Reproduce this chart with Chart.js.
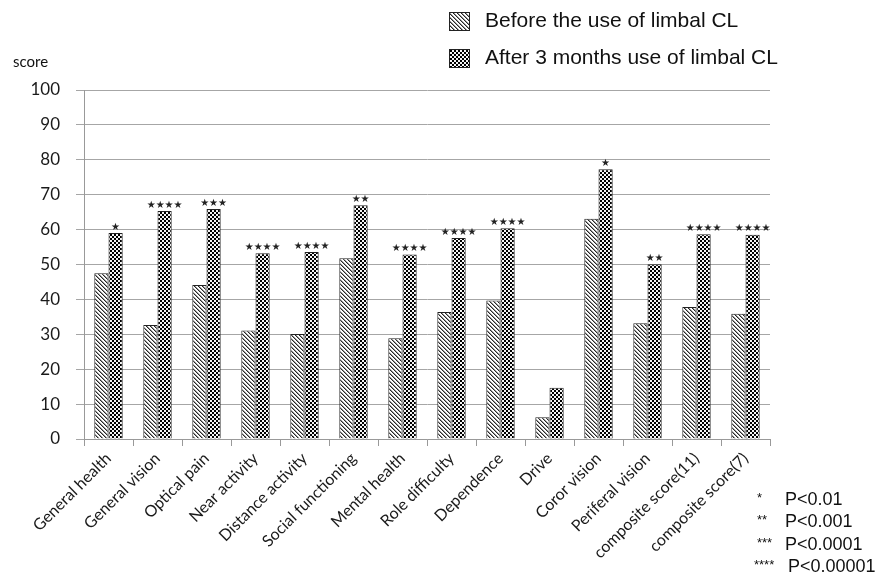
<!DOCTYPE html>
<html>
<head>
<meta charset="utf-8">
<style>
  html, body { margin: 0; padding: 0; background: #fff; }
  #wrap { width: 879px; height: 574px; position: relative; }
</style>
<script src="https://cdn.jsdelivr.net/npm/chart.js@4/dist/chart.umd.min.js"></script>
</head>
<body>
<div id="wrap"><canvas id="c" width="879" height="574"></canvas></div>
<script>
// Quality-of-life scores per domain, before and after 3 months of limbal CL wear
const categories = [
  'General health', 'General vision', 'Optical pain', 'Near activity',
  'Distance activity', 'Social functioning', 'Mental health', 'Role difficulty',
  'Dependence', 'Drive', 'Coror vision', 'Periferal vision',
  'composite score(11)', 'composite score(7)'
];
const beforeScores = [47.5, 32.7, 44.1, 31.1, 30.1, 51.8, 28.9, 36.4, 39.7, 6.2, 63.1, 33.2, 37.8, 35.9];
const afterScores  = [59.0, 65.3, 65.9, 53.2, 53.6, 67.0, 52.9, 57.6, 60.4, 14.7, 77.3, 50.1, 58.7, 58.5];
const significance = ['*', '****', '***', '****', '****', '**', '****', '****', '****', '', '*', '**', '****', '****'];
const seriesNames = ['Before the use of limbal CL', 'After 3 months use of limbal CL'];
const pValueKeys = ['*', '**', '***', '****'];
const pValueTexts = ['P<0.01', 'P<0.001', 'P<0.0001', 'P<0.00001'];

// Fill patterns: fine diagonal hatch and a small checkerboard
function makePattern(kind) {
  const s = 8;
  const pc = document.createElement('canvas');
  pc.width = s; pc.height = s;
  const g = pc.getContext('2d');
  const img = g.createImageData(s, s);
  for (let y = 0; y < s; y++) {
    for (let x = 0; x < s; x++) {
      let v;
      if (kind === 'hatch') {
        const d = ((x - y) % 4 + 4) % 4;
        v = d === 0 ? 40 : (d === 1 ? 150 : 255);
      } else {
        v = (Math.floor(x / 2) + Math.floor(y / 2)) % 2 === 0 ? 0 : 245;
      }
      const i = (y * s + x) * 4;
      img.data[i] = v; img.data[i + 1] = v; img.data[i + 2] = v; img.data[i + 3] = 255;
    }
  }
  g.putImageData(img, 0, 0);
  return g.createPattern(pc, 'repeat');
}
const ctx0 = document.getElementById('c').getContext('2d');
const hatch = makePattern('hatch');
const checker = makePattern('checker');

// Star markers above the "after" bars and the custom legends
const annotations = {
  id: 'annotations',
  afterDatasetsDraw(chart) {
    const ctx = chart.ctx;
    const meta = chart.getDatasetMeta(1);
    ctx.save();
    ctx.fillStyle = '#222';
    ctx.font = '10px "DejaVu Sans"';
    ctx.textAlign = 'center';
    ctx.textBaseline = 'bottom';
    meta.data.forEach((bar, i) => {
      const mark = significance[i];
      if (!mark) return;
      ctx.fillText('\u2605'.repeat(mark.length), bar.x, bar.y - 1);
    });
    ctx.restore();
  },
  afterDraw(chart) {
    const ctx = chart.ctx;
    ctx.save();
    // series legend, top right
    const fills = [hatch, checker];
    const rows = [21, 58];
    ctx.font = '21px "Liberation Sans"';
    ctx.textBaseline = 'middle';
    ctx.textAlign = 'left';
    rows.forEach((cy, i) => {
      ctx.fillStyle = fills[i];
      ctx.fillRect(449, cy - 9, 21, 19);
      ctx.strokeStyle = '#222';
      ctx.lineWidth = 1;
      ctx.strokeRect(449.5, cy - 8.5, 20, 18);
      ctx.fillStyle = '#111';
      ctx.fillText(seriesNames[i], 485, cy);
    });
    // significance key, bottom right
    const keyRows = [500, 522, 545, 567];
    keyRows.forEach((cy, i) => {
      ctx.font = '13px "Liberation Sans"';
      ctx.fillStyle = '#111';
      ctx.textAlign = 'left';
      ctx.fillText(pValueKeys[i], i === 3 ? 754 : 757, cy - 2);
      ctx.font = '18px "Liberation Sans"';
      ctx.fillText(pValueTexts[i], i === 3 ? 788 : 785, cy);
    });
    // y axis title
    ctx.font = '15px Lato';
    ctx.fillText('score', 13, 62);
    ctx.restore();
  }
};

Chart.defaults.font.family = 'Lato';
Chart.defaults.color = '#1a1a1a';

new Chart(ctx0, {
  type: 'bar',
  data: {
    labels: categories,
    datasets: [
      {
        label: seriesNames[0],
        data: beforeScores,
        backgroundColor: hatch,
        borderColor: '#222',
        borderWidth: 1,
        categoryPercentage: 0.58,
        barPercentage: 1.0
      },
      {
        label: seriesNames[1],
        data: afterScores,
        backgroundColor: checker,
        borderColor: '#222',
        borderWidth: 1,
        categoryPercentage: 0.58,
        barPercentage: 1.0
      }
    ]
  },
  options: {
    responsive: false,
    animation: false,
    devicePixelRatio: 1,
    layout: { padding: { top: 90, right: 109, bottom: 0, left: 0 } },
    plugins: {
      legend: { display: false },
      tooltip: { enabled: false }
    },
    scales: {
      x: {
        offset: true,
        grid: {
          offset: true,
          drawOnChartArea: false,
          drawTicks: true,
          tickLength: 7,
          color: '#999'
        },
        border: { display: true, color: '#999', width: 1 },
        ticks: {
          font: { size: 16 },
          minRotation: 45,
          maxRotation: 45,
          autoSkip: false,
          padding: 3
        },
        afterFit(scale) { scale.height = 135; }
      },
      y: {
        min: 0,
        max: 100,
        ticks: { stepSize: 10, font: { size: 17 }, padding: 16 },
        grid: { color: '#a6a6a6', tickLength: 8, lineWidth: 1 },
        border: { display: true, color: '#999', width: 1 },
        afterFit(scale) { scale.width = 84; }
      }
    }
  },
  plugins: [annotations]
});
</script>
</body>
</html>
